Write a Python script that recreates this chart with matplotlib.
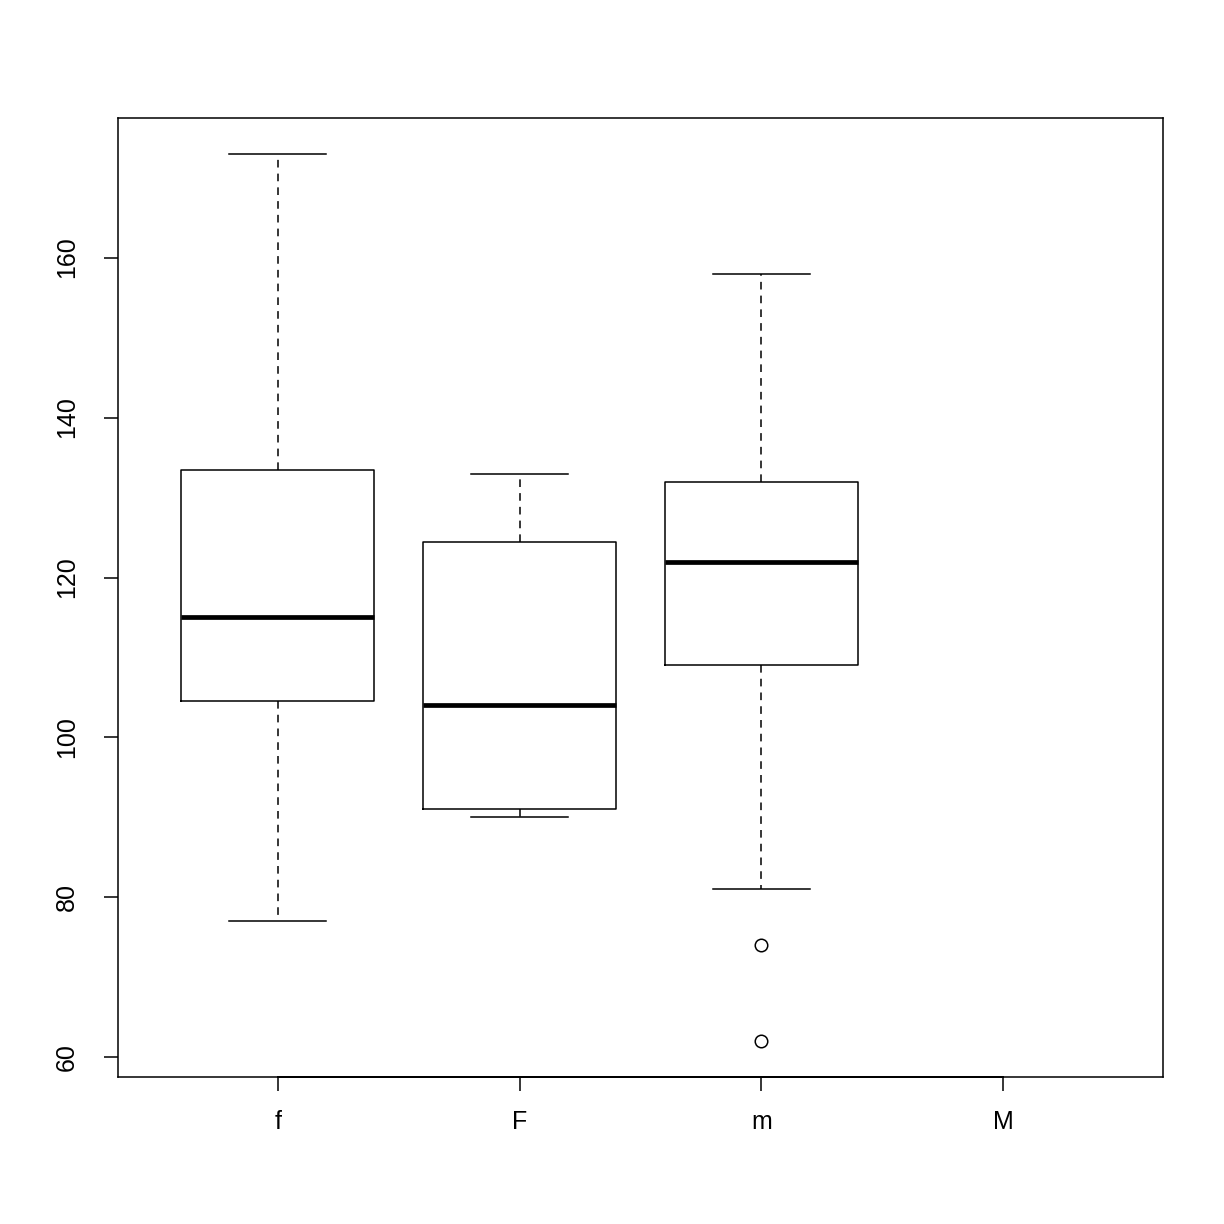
import matplotlib.pyplot as plt

plt.rcParams['font.family'] = ['Liberation Sans', 'DejaVu Sans']

# groups and their five-number summaries
grupos = ['f', 'F', 'm', 'M']
bigotes_inf = [77, 90, 81]
q1 = [104.5, 91, 109]
medianas = [115, 104, 122]
q3 = [133.5, 124.5, 132]
bigotes_sup = [173, 133, 158]
atipicos = [[], [], [74, 62]]

stats = []
for i in range(len(medianas)):
    stats.append({
        'whislo': bigotes_inf[i], 'q1': q1[i], 'med': medianas[i],
        'q3': q3[i], 'whishi': bigotes_sup[i], 'fliers': atipicos[i],
    })

fig = plt.figure(figsize=(12.24, 12.24), dpi=100)
ax = fig.add_axes([118/1224, 1 - 1077/1224, (1163-118)/1224, (1077-118)/1224])

ax.bxp(stats, positions=[1, 2, 3], widths=0.8, showfliers=True,
       boxprops=dict(color='black', linewidth=1.1),
       medianprops=dict(color='black', linewidth=3.4, solid_capstyle='butt'),
       whiskerprops=dict(color='black', linewidth=1.1, linestyle=(0, (5, 4))),
       capprops=dict(color='black', linewidth=1.1),
       capwidths=0.4,
       flierprops=dict(marker='o', markerfacecolor='none', markeredgecolor='black',
                       markersize=9, markeredgewidth=1.1))

ax.set_xlim(0.34, 4.66)
ax.set_ylim(57.56, 177.44)
ax.set_xticks([1, 2, 3, 4])
ax.set_xticklabels(grupos)
ax.set_yticks([60, 80, 100, 120, 140, 160])
for lbl in ax.get_yticklabels():
    lbl.set_rotation(90)
    lbl.set_va('center')
ax.tick_params(direction='out', length=10, width=1.1, labelsize=18)
ax.tick_params(axis='x', pad=14)
ax.tick_params(axis='y', pad=18)
for s in ax.spines.values():
    s.set_linewidth(1.1)
# linea del eje x entre el primer y el último tick, como en R
ax.plot([1, 4], [57.56, 57.56], color='black', linewidth=1.4, clip_on=False)

fig.savefig('out.png', dpi=100)
